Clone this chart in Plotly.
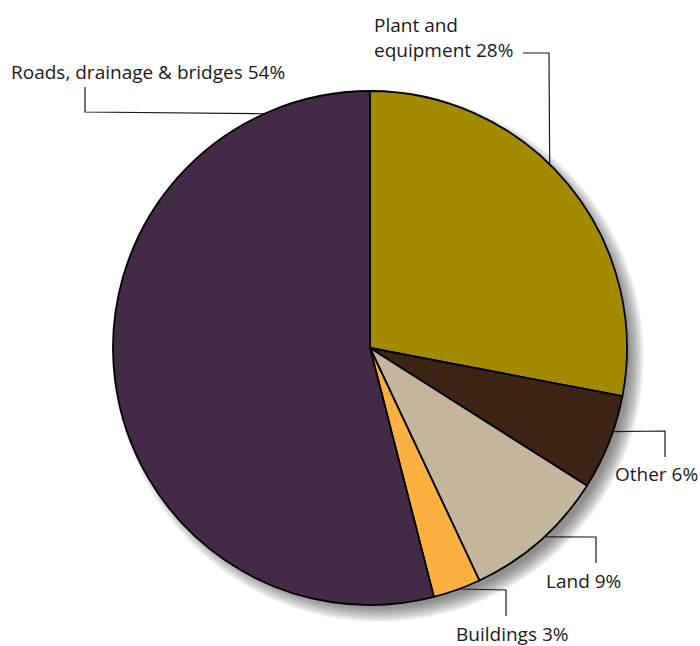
import math
import plotly.graph_objects as go

# Capital asset composition (share of total, %)
categories = ["Plant and equipment", "Other", "Land", "Buildings", "Roads, drainage & bridges"]
values = [28, 6, 9, 3, 54]
label_texts = ["Plant and<br>equipment 28%", "Other 6%", "Land 9%", "Buildings 3%",
               "Roads, drainage & bridges 54%"]
colors = ["#A38A00", "#3D2314", "#C4B69C", "#FBB040", "#432A46"]

W, H = 700, 646
CX, CY, R = 370, 348, 257          # pie centre and radius in pixels

# where each leader line leaves the rim (fraction through its own slice),
# its elbow / end points and the label anchor, in pixels
leader_frac = [0.44, 0.38, 0.46, 0.45, 0.875]
elbows = [[(549, 53), (523, 53)],
          [(665, 431), (665, 457)],
          [(596, 537), (596, 563)],
          [(506, 590), (506, 616)],
          [(85, 112), (85, 87)]]
label_pos = [(372, 37), (613, 474), (544, 581), (454, 634), (9, 72)]

px = lambda x: x / W
py = lambda y: 1 - y / H

fig = go.Figure()
fig.add_trace(go.Pie(
    labels=categories, values=values, sort=False, direction="clockwise", rotation=0,
    marker=dict(colors=colors, line=dict(color="#000000", width=1.8)),
    textinfo="none", hoverinfo="label+percent", showlegend=False,
    domain=dict(x=[px(CX - R), px(CX + R)], y=[py(CY + R), py(CY - R)]),
))

shapes = []
# soft drop shadow towards the lower right
for k in range(16):
    rr = R - 7 + k
    ox, oy = CX + 9, CY + 9
    shapes.append(dict(type="circle", xref="paper", yref="paper", layer="below",
                       x0=px(ox - rr), x1=px(ox + rr), y0=py(oy + rr), y1=py(oy - rr),
                       fillcolor="rgba(40,40,40,0.045)", line=dict(width=0)))

total = sum(values)
cum = 0
annotations = []
for v, frac, pts, lp, txt in zip(values, leader_frac, elbows, label_pos, label_texts):
    theta = 2 * math.pi * (cum + frac * v) / total
    cum += v
    sx, sy = CX + R * math.sin(theta), CY - R * math.cos(theta)
    path = [(sx, sy)] + pts
    d = "M " + " L ".join(f"{px(x):.5f},{py(y):.5f}" for x, y in path)
    shapes.append(dict(type="path", xref="paper", yref="paper", path=d,
                       line=dict(color="#1a1a1a", width=1.2)))
    annotations.append(dict(xref="paper", yref="paper", x=px(lp[0]), y=py(lp[1]),
                            xanchor="left", yanchor="middle", align="left",
                            text=txt, showarrow=False,
                            font=dict(family="Open Sans", size=19, color="#1a1a1a")))

fig.update_layout(width=W, height=H, margin=dict(l=0, r=0, t=0, b=0),
                  paper_bgcolor="white", plot_bgcolor="white",
                  shapes=shapes, annotations=annotations)
fig.write_html("out.html")
